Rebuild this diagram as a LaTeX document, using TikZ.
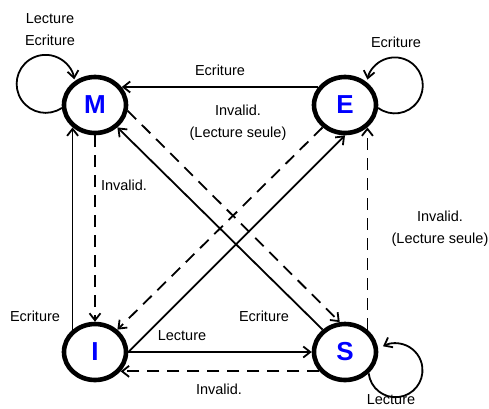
\documentclass[tikz,border=0pt]{standalone}
\usepackage{fontspec}
\setmainfont{Liberation Sans}
\usetikzlibrary{shapes.geometric,arrows.meta}

\tikzset{
  etat/.style={ellipse, draw, line width=4.6pt, minimum width=62pt, minimum height=56pt,
    inner sep=0pt, text=blue, font=\fontsize{26}{28}\selectfont\bfseries},
  trans/.style={line width=1.8pt, -{Straight Barb[length=7pt,width=11pt]}},
  inval/.style={trans, dash pattern=on 12pt off 8pt},
  lbl/.style={font=\fontsize{14.5}{22}\selectfont, align=center},
}

\begin{document}
\begin{tikzpicture}[x=1pt,y=1pt]
            \useasboundingbox (0,0) rectangle (489,-408);

            \node[etat] (M) at (95,-105) {M};
            \node[etat] (E) at (345,-105) {E};
            \node[etat] (I) at (95,-352) {I};
            \node[etat] (S) at (345,-352) {S};

            \draw[trans] (E.146) -- (M.34);
            \draw[inval] (M.south) -- (I.north);
            \draw[trans] (I.135) -- (M.225);
            \draw[trans] (I.east) -- (S.west);
            \draw[inval] (S.217) -- (I.323);
            \draw[trans] (I.east) -- (E.south);
            \draw[inval] (E.225) -- (I.45);
            \draw[trans] (S.135) -- (M.315);
            \draw[inval] (M.350) -- (S.100);
            \draw[inval] (S.45) -- (E.315);

            \draw[trans] (M.185) arc[start angle=-56, end angle=-351, radius=29];
            \draw[trans] (E.-5) arc[start angle=-126.5, end angle=168, radius=28];
            \draw[trans] (S.-42) arc[start angle=-173.4, end angle=117.5, radius=27];

            \node[lbl] (lMM) at (50,-30) {Lecture\\Ecriture};
            \node[lbl] (lEM) at (220,-70) {Ecriture};
            \node[lbl] (lMS) at (238,-123) {Invalid.\\(Lecture seule)};
            \node[lbl] (lMI) at (124,-185) {Invalid.};
            \node[lbl] (lIM) at (35,-316) {Ecriture};
            \node[lbl] (lIS) at (182,-336) {Lecture};
            \node[lbl] (lSI) at (219,-389) {Invalid.};
            \node[lbl] (lSM) at (264,-316) {Ecriture};
            \node[lbl] (lSE) at (440,-229) {Invalid.\\(Lecture seule)};
            \node[lbl] (lEE) at (396,-42) {Ecriture};
            \node[lbl] (lSS) at (391,-400) {Lecture};

        \end{tikzpicture}
\end{document}
